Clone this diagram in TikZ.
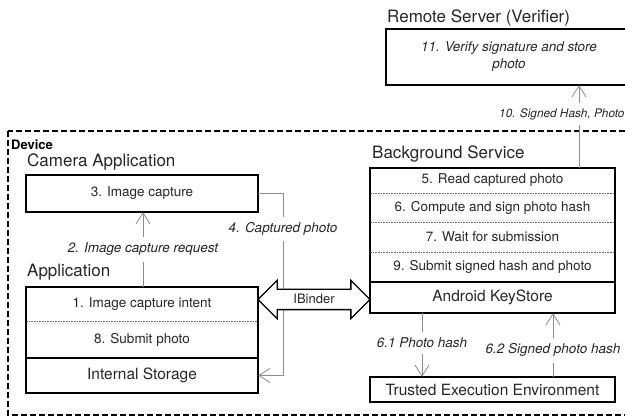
\documentclass[tikz,border=0pt]{standalone}
\usepackage{fontspec}
\setmainfont{TeX Gyre Heros}
\usetikzlibrary{arrows.meta,shapes.arrows}
\begin{document}
\begin{tikzpicture}[x=1pt,y=-1pt,
  txt/.style={text=black!85},
  sec/.style={rectangle, inner sep=0pt, txt, font=\fontsize{13.5}{15}\selectfont},
  big/.style={rectangle, inner sep=0pt, txt, font=\fontsize{15.5}{17}\selectfont},
  title/.style={anchor=west, inner sep=0pt, txt, font=\fontsize{17}{19}\selectfont},
  frame/.style={draw=black, line width=1.8pt},
  sepline/.style={draw=black!60, line width=0.5pt, dash pattern=on 1pt off 0.6pt},
  flow/.style={draw=black!45, line width=0.8pt, -{Straight Barb[length=11pt,width=14pt,line width=0.8pt]}},
  lbl/.style={fill=white, inner xsep=2pt, inner ysep=6pt, txt, font=\fontsize{13.5}{15}\selectfont\itshape},
  devbox/.style={draw=black, line width=1.4pt, dash pattern=on 6pt off 3pt}
]
\useasboundingbox (0,0) rectangle (625,419);

% Remote server
\node[title] (tserver) at (387,18) {Remote Server (Verifier)};
\node[sec, minimum width=246pt, minimum height=56pt, align=center, font=\fontsize{13.5}{17}\selectfont\itshape] (server) at (509,57) {11. Verify signature and store\\photo};
\draw[frame] (server.north west) rectangle (server.south east);

% Device
\draw[devbox] (8,131) rectangle (640,415);
\node[anchor=west, inner sep=0pt, font=\fontsize{13}{15}\selectfont\bfseries] (device) at (11,145) {Device};

% Camera application
\node[title] (tcam) at (27,162) {Camera Application};
\node[sec, minimum width=232pt, minimum height=37pt] (cam) at (142,193.5) {3. Image capture};
\draw[frame] (cam.north west) rectangle (cam.south east);

% Application
\node[title] (tapp) at (27,272) {Application};
\node[sec, minimum width=232pt, minimum height=34pt] (intent) at (142,304) {1. Image capture intent};
\node[sec, minimum width=232pt, minimum height=37pt] (submit) at (142,339.5) {8. Submit photo};
\node[big, minimum width=232pt, minimum height=35pt] (storage) at (142,375.5) {Internal Storage};
\draw[sepline] (intent.south west) -- (intent.south east);
\draw[frame] (storage.north west) -- (storage.north east);
\draw[frame] (intent.north west) rectangle (storage.south east);

% Background service
\node[title] (tbg) at (372,154) {Background Service};
\node[sec, minimum width=245pt, minimum height=25pt] (s5) at (492.5,180.5) {5. Read captured photo};
\node[sec, minimum width=245pt, minimum height=29pt] (s6) at (492.5,207.5) {6. Compute and sign photo hash};
\node[sec, minimum width=245pt, minimum height=30pt] (s7) at (492.5,237) {7. Wait for submission};
\node[sec, minimum width=245pt, minimum height=30pt] (s9) at (492.5,267) {9. Submit signed hash and photo};
\node[big, minimum width=245pt, minimum height=31pt] (ks) at (492.5,297.5) {Android KeyStore};
\draw[sepline] (s5.south west) -- (s5.south east);
\draw[sepline] (s6.south west) -- (s6.south east);
\draw[sepline] (s7.south west) -- (s7.south east);
\draw[frame] (ks.north west) -- (ks.north east);
\draw[frame] (s5.north west) rectangle (ks.south east);

% TEE
\node[big, minimum width=245pt, minimum height=25pt] (tee) at (492.5,389.5) {Trusted Execution Environment};
\draw[frame] (tee.north west) rectangle (tee.south east);

% Connectors
\coordinate (x2) at (143,0);
\draw[flow] (x2 |- intent.north) -- (x2 |- cam.south)
  node[lbl, pos=0.5] (l2) {2. Image capture request};

\coordinate (c4) at (283,193.5);
\draw[flow] (cam.east) -- (c4) |- (storage.east);
\node[lbl] (l4) at (283,229) {4. Captured photo};

\coordinate (x10) at (579,0);
\draw[flow] (x10 |- s5.north) -- (x10 |- server.south);
\node[lbl, anchor=west, inner xsep=0pt, inner ysep=5pt, font=\fontsize{11.8}{14}\selectfont\itshape] (l10) at (499,114) {10. Signed Hash, Photo};

\coordinate (x61) at (422,0);
\draw[flow] (x61 |- ks.south) -- (x61 |- tee.north)
  node[lbl, pos=0.47] (l61) {6.1 Photo hash};

\coordinate (x62) at (553,0);
\draw[flow] (x62 |- tee.north) -- (x62 |- ks.south)
  node[lbl, pos=0.42] (l62) {6.2 Signed photo hash};

% IBinder
\node[double arrow, draw=black, line width=1.3pt, fill=white, txt,
  font=\fontsize{13}{15}\selectfont, text height=9pt, text depth=0pt,
  inner xsep=0pt, inner ysep=5pt, double arrow head extend=9pt,
  minimum height=112pt, double arrow tip angle=90] (ibinder) at (314,299.5) {IBinder};
\end{tikzpicture}
\end{document}
